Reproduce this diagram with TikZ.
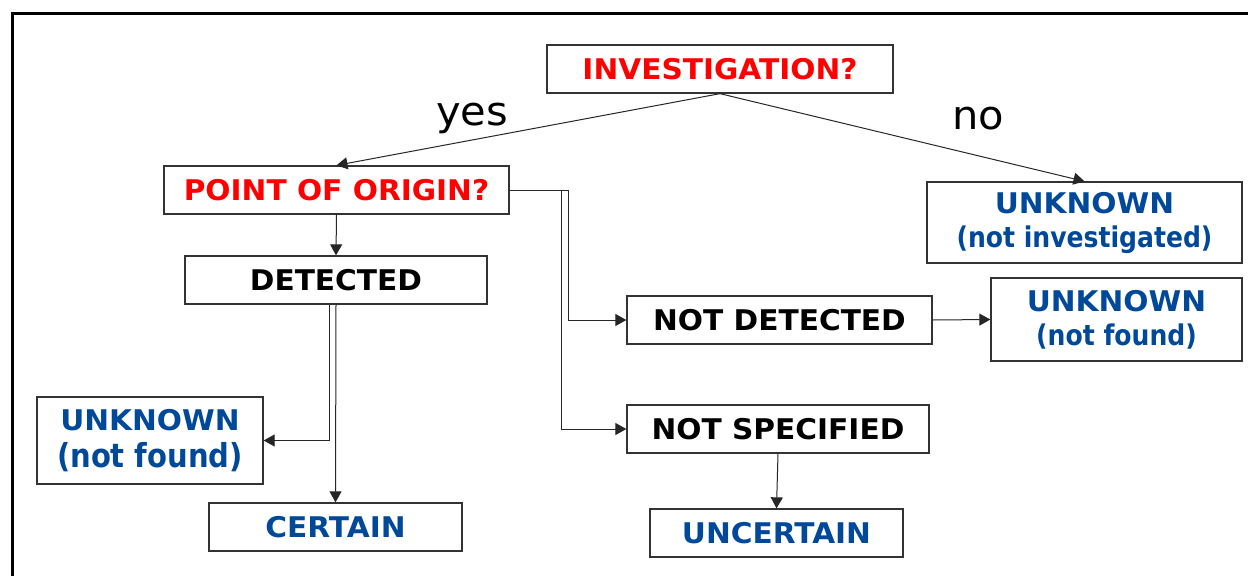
\documentclass[tikz,border=0pt]{standalone}
\usepackage{fontspec}
\setmainfont{DejaVu Sans}[FakeStretch=1.04]
\newfontfamily\narrowf{DejaVu Sans}[FakeStretch=0.88]
\usetikzlibrary{arrows.meta}
\definecolor{tred}{RGB}{255,0,0}
\definecolor{tblue}{RGB}{0,72,153}
\begin{document}
\begin{tikzpicture}[x=1pt,y=-1pt,
 box/.style={draw=black!80,line width=1.3pt,inner sep=0pt,align=center,
   font=\fontsize{28.5}{34}\selectfont\bfseries},
 conn/.style={draw=black!85,line width=1pt,-{Triangle[length=11pt,width=12pt]}},
 lbl/.style={font=\fontsize{40}{40}\selectfont,anchor=base,inner sep=0pt}]
\useasboundingbox (0,0) rectangle (1248,576);
\draw[line width=3pt] (12,576) -- (12,13.5) -- (1248,13.5);

\node[box,minimum width=346pt,minimum height=48pt,text=tred] (inv) at (720,69) {INVESTIGATION?};
\node[box,minimum width=345pt,minimum height=48pt,text=tred] (poo) at (336.5,190) {POINT OF ORIGIN?};
\node[box,minimum width=302pt,minimum height=48pt] (det) at (336,280) {DETECTED};
\node[box,minimum width=315pt,minimum height=81pt,text=tblue] (unkinv) at (1084.5,222.5) {UNKNOWN\\{\narrowf\bfseries (not investigated)}};
\node[box,minimum width=251pt,minimum height=83pt,text=tblue] (unkfr) at (1116.5,319.5) {UNKNOWN\\{\narrowf\bfseries (not found)}};
\node[box,minimum width=305pt,minimum height=48pt] (notdet) at (779.5,320) {NOT DETECTED};
\node[box,minimum width=302pt,minimum height=48pt] (notspec) at (778,429) {NOT SPECIFIED};
\node[box,minimum width=253pt,minimum height=48pt,text=tblue] (uncert) at (776.5,533) {UNCERTAIN};
\node[box,minimum width=226pt,minimum height=87pt,text=tblue] (unkfl) at (150,440.5) {UNKNOWN\\[3pt]{\fontsize{33}{36}\narrowf\bfseries (not found)}};
\node[box,minimum width=253pt,minimum height=48pt,text=tblue] (cert) at (335.5,527) {CERTAIN};

\node[lbl] (yes) at (472,125) {yes};
\node[lbl] (no) at (978,129) {no};

\draw[conn] (inv.south) -- (poo.north);
\draw[conn] (inv.south) -- (unkinv.north);
\draw[conn] (poo.south) -- (det.north);
\draw[conn] (poo.east) -- ++(59,0) |- (notdet.west);
\draw[conn] (poo.east) -- ++(52,0) |- (notspec.west);
\draw[conn] ([xshift=-7pt]det.south) |- (unkfl.east);
\draw[conn] (det.south) -- (cert.north);
\draw[conn] (notdet.east) -- (unkfr.west);
\draw[conn] (notspec.south) -- (uncert.north);
\end{tikzpicture}
\end{document}
